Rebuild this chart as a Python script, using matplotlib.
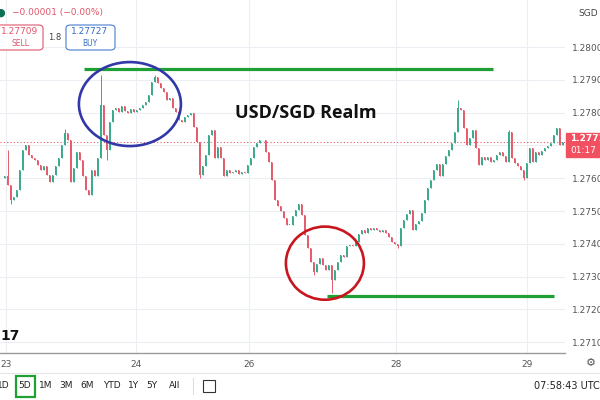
import numpy as np
import matplotlib
matplotlib.use("Agg")
import matplotlib.pyplot as plt
from matplotlib.patches import Ellipse, FancyBboxPatch, Rectangle

# USD/SGD 5D candles, close prices (open = previous close)
closes = [
    1.27600, 1.27607, 1.27579, 1.27533, 1.27542, 1.27564, 1.27625, 1.27686, 1.27701, 1.27671,
    1.27661, 1.27655, 1.27640, 1.27625, 1.27637, 1.27610, 1.27588, 1.27610, 1.27637, 1.27661,
    1.27701, 1.27738, 1.27716, 1.27588, 1.27631, 1.27680, 1.27655, 1.27607, 1.27564, 1.27549,
    1.27625, 1.27607, 1.27661, 1.27823, 1.27732, 1.27686, 1.27771, 1.27808, 1.27814, 1.27802,
    1.27820, 1.27805, 1.27799, 1.27811, 1.27802, 1.27808, 1.27814, 1.27823, 1.27832, 1.27854,
    1.27893, 1.27909, 1.27890, 1.27875, 1.27863, 1.27838, 1.27844, 1.27814, 1.27802, 1.27777,
    1.27771, 1.27787, 1.27793, 1.27799, 1.27756, 1.27710, 1.27610, 1.27637, 1.27671, 1.27732,
    1.27747, 1.27661, 1.27695, 1.27661, 1.27607, 1.27625, 1.27616, 1.27619, 1.27625, 1.27613,
    1.27619, 1.27616, 1.27640, 1.27661, 1.27695, 1.27707, 1.27716, 1.27716, 1.27680, 1.27649,
    1.27594, 1.27533, 1.27515, 1.27500, 1.27478, 1.27457, 1.27457, 1.27485, 1.27503, 1.27521,
    1.27488, 1.27427, 1.27387, 1.27344, 1.27314, 1.27338, 1.27356, 1.27335, 1.27320, 1.27335,
    1.27289, 1.27320, 1.27344, 1.27366, 1.27360, 1.27393, 1.27396, 1.27393, 1.27405, 1.27430,
    1.27442, 1.27433, 1.27448, 1.27442, 1.27448, 1.27442, 1.27436, 1.27442, 1.27433, 1.27420,
    1.27405, 1.27399, 1.27393, 1.27448, 1.27472, 1.27491, 1.27503, 1.27442, 1.27460, 1.27469,
    1.27494, 1.27533, 1.27570, 1.27594, 1.27625, 1.27643, 1.27607, 1.27643, 1.27668, 1.27686,
    1.27707, 1.27741, 1.27814, 1.27808, 1.27753, 1.27701, 1.27722, 1.27747, 1.27692, 1.27640,
    1.27664, 1.27655, 1.27664, 1.27649, 1.27655, 1.27671, 1.27680, 1.27668, 1.27649, 1.27741,
    1.27661, 1.27646, 1.27637, 1.27625, 1.27600, 1.27646, 1.27692, 1.27649, 1.27680, 1.27671,
    1.27683, 1.27692, 1.27698, 1.27707, 1.27732, 1.27753, 1.27701, 1.27710,
]
# long wicks seen on the chart (candle index -> price)
wick_highs = {2: 1.27686, 33: 1.27915, 51: 1.27915, 152: 1.27838, 169: 1.27747, 21: 1.27750}
wick_lows = {3: 1.27520, 35: 1.27655, 66: 1.27600, 104: 1.27305, 110: 1.27250, 132: 1.27387,
             174: 1.27594}

date_labels = ["23", "24", "26", "28", "29"]
date_pos = [1.5, 44.8, 82.5, 131.5, 175.2]
price_ticks = [1.2710, 1.2720, 1.2730, 1.2740, 1.2750, 1.2760, 1.2770, 1.2780, 1.2790, 1.2800]
last_price = 1.2771
resistance = 1.27933
support = 1.27241

closes = np.array(closes)
opens = np.concatenate([[closes[0]], closes[:-1]])
highs = np.maximum(opens, closes)
lows = np.minimum(opens, closes)
for k, v in wick_highs.items():
    highs[k] = max(highs[k], v)
for k, v in wick_lows.items():
    lows[k] = min(lows[k], v)
idx = np.arange(len(closes))

UP = "#3aa98c"
DOWN = "#e45c6b"
cols = np.where(closes >= opens, UP, DOWN)

fig = plt.figure(figsize=(6, 4), dpi=100)
ax = fig.add_axes([0, 47 / 400, 565 / 600, 353 / 400])

# grid
for p in price_ticks:
    ax.axhline(p, color="#eceef3", lw=0.8, zorder=0)
for d in date_pos:
    ax.axvline(d, color="#eceef3", lw=0.8, zorder=0)

ax.vlines(idx, lows, highs, colors=cols, lw=0.7, zorder=2)
ax.bar(idx, np.maximum(np.abs(closes - opens), 0.00002), bottom=np.minimum(opens, closes),
       width=0.5, color=cols, zorder=3)

ax.axhline(last_price, color="#e45c6b", lw=0.8, ls=(0, (1, 2)), zorder=1)

# drawn annotations
ax.hlines(resistance, 27.5, 163.8, color="#1fa035", lw=2.3, zorder=4)
ax.hlines(support, 108.5, 184.2, color="#1fa035", lw=2.3, zorder=4)
ax.add_patch(Ellipse((42.8, 1.27826), 34, 0.00256, fill=False, ec="#3238a8", lw=1.9, zorder=5))
ax.add_patch(Ellipse((107.8, 1.27341), 26, 0.00223, fill=False, ec="#c8161e", lw=1.9, zorder=5))
ax.text(101.5, 1.27799, "USD/SGD Realm", fontsize=13, fontweight="bold", family="Open Sans",
        color="#111111", ha="center", va="center", zorder=6)

ax.set_xlim(-0.5, 187.83)
ax.set_ylim(1.270671, 1.281433)
ax.set_xticks(date_pos)
ax.set_xticklabels(date_labels)
ax.yaxis.tick_right()
ax.set_yticks(price_ticks)
# 1.2770 sits behind the last-price label
ax.set_yticklabels(["" if abs(p - 1.2770) < 1e-9 else f"{p:.4f}" for p in price_ticks])
ax.tick_params(axis="both", length=0, labelsize=6.5, colors="#555555")
ax.tick_params(axis="x", pad=5)
ax.tick_params(axis="y", pad=5)
for s in ["top", "right", "left"]:
    ax.spines[s].set_visible(False)
ax.spines["bottom"].set_color("#9a9a9a")
ax.spines["bottom"].set_linewidth(1.0)


def fx(x):
    return x / 600


def fy(y):
    return 1 - y / 400


# last price label on the price scale
fig.patches.append(Rectangle((fx(566), fy(157)), fx(40), 24 / 400, transform=fig.transFigure,
                             color="#f0505f", zorder=5))
fig.text(fx(570), fy(139), "1.2771", fontsize=6.5, color="white", fontweight="bold",
         va="center", zorder=8)
fig.text(fx(570), fy(151), "01:17", fontsize=6.5, color="white", va="center", zorder=8)

# header
fig.text(fx(0), fy(13), "\u25cf", fontsize=8, color="#0b6e55", va="center", ha="center")
fig.text(fx(12), fy(13), "\u22120.00001 (\u22120.00%)", fontsize=6.5, color="#e0566a", va="center")
fig.patches.append(FancyBboxPatch((fx(-4), fy(50)), fx(47), 25 / 400,
                                  boxstyle="round,pad=0,rounding_size=0.008",
                                  transform=fig.transFigure, fc="white", ec="#e0566a", lw=0.8))
fig.text(fx(20), fy(32), "1.27709", fontsize=6.5, color="#e0566a", ha="center", va="center",
         zorder=8)
fig.text(fx(20), fy(43), "SELL", fontsize=5.5, color="#e0566a", ha="center", va="center",
         zorder=8)
fig.text(fx(55), fy(38), "1.8", fontsize=6, color="#444444", ha="center", va="center")
fig.patches.append(FancyBboxPatch((fx(66), fy(50)), fx(49), 25 / 400,
                                  boxstyle="round,pad=0,rounding_size=0.008",
                                  transform=fig.transFigure, fc="white", ec="#4a7fd0", lw=0.8))
fig.text(fx(90), fy(32), "1.27727", fontsize=6.5, color="#3a6fc0", ha="center", va="center",
         zorder=8)
fig.text(fx(90), fy(43), "BUY", fontsize=5.5, color="#3a6fc0", ha="center", va="center",
         zorder=8)
fig.text(fx(578), fy(14), "SGD", fontsize=6.5, color="#444444", va="center")

# logo fragment and bottom toolbar
fig.text(fx(0), fy(336), "17", fontsize=10, fontweight="bold", color="#111111", va="center")
fig.text(fx(591), fy(363), "\u2699", fontsize=8, color="#555555", ha="center", va="center")
fig.lines.append(plt.Line2D([0, 1], [fy(373), fy(373)], transform=fig.transFigure,
                            color="#e6e6e6", lw=0.8))
ranges = ["1D", "5D", "1M", "3M", "6M", "YTD", "1Y", "5Y", "All"]
range_x = [3, 25, 46, 66, 87, 112, 134, 152, 175]
for lab, x in zip(ranges, range_x):
    fig.text(fx(x), fy(386), lab, fontsize=6.5, color="#222222", ha="center", va="center")
fig.patches.append(Rectangle((fx(16), fy(397)), fx(19), 21 / 400, transform=fig.transFigure,
                             fill=False, ec="#1fa035", lw=1.6))
fig.lines.append(plt.Line2D([fx(193), fx(193)], [fy(378), fy(394)], transform=fig.transFigure,
                            color="#dddddd", lw=0.8))
fig.patches.append(Rectangle((fx(203), fy(392)), fx(12), 12 / 400, transform=fig.transFigure,
                             fill=False, ec="#333333", lw=0.8))
fig.text(fx(600), fy(386), "07:58:43 UTC", fontsize=7, color="#222222", ha="right", va="center")

fig.savefig("out.png", dpi=100)
